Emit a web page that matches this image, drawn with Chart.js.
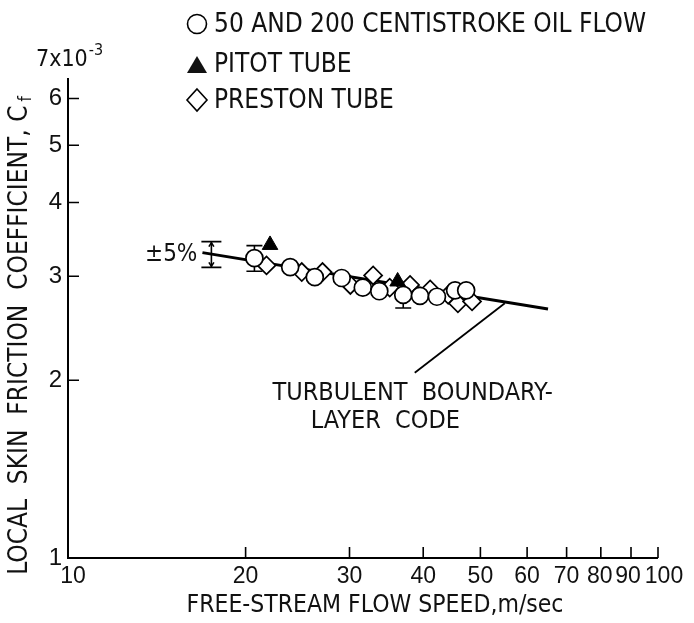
<!DOCTYPE html>
<html>
<head>
<meta charset="utf-8">
<script src="https://cdn.jsdelivr.net/npm/chart.js@4.4.1/dist/chart.umd.min.js"></script>
<style>
    html, body { margin: 0; padding: 0; background: #fff; }
</style>
</head>
<body>
<canvas id="skinChart" width="694" height="623"></canvas>
<script>
// Values: speed in m/s, Cf in units of 10^-3
const oilSpeed = [20.7, 23.8, 26.2, 29.1, 31.6, 33.7, 37.0, 39.5, 42.2, 45.3, 47.3];
const oilCf = [3.22, 3.11, 2.99, 2.98, 2.87, 2.83, 2.79, 2.78, 2.77, 2.84, 2.84];

const pitotSpeed = [22.0, 36.2];
const pitotCf = [3.39, 2.94];

const prestonSpeed = [21.7, 24.9, 27.0, 30.1, 32.9, 35.1, 38.0, 41.1, 44.1, 45.8, 48.4];
const prestonCf = [3.13, 3.05, 3.05, 2.90, 3.01, 2.87, 2.90, 2.85, 2.79, 2.70, 2.72];

// turbulent boundary-layer code curve
const codeSpeed = [16.9, 65.1];
const codeCf = [3.29, 2.64];

// +-5% bars: two oil-flow points and the key bar at the start of the code line
const errSpeed = [20.7, 37.0, 17.5];
const errCf = [3.22, 2.79, 3.27];
const errPct = 0.05;

// pointer from code line to its label
const leaderSpeed = [55.0, 38.7];
const leaderCf = [2.70, 2.06];

const xTicks = [10, 20, 30, 40, 50, 60, 70, 80, 90, 100];
const yTicks = [1, 2, 3, 4, 5, 6, 7];

const NARROW = '"Liberation Sans Narrow", "DejaVu Sans Condensed", "Liberation Sans", sans-serif';
const FONT = '"Liberation Sans", Arial, sans-serif';

function toPoints(xs, ys) {
    return xs.map((x, i) => ({ x: x, y: ys[i] }));
}

// Axes, ticks, error bars and the text notes
const notesPlugin = {
    id: 'notes',
    beforeDatasetsDraw(chart) {
        const ctx = chart.ctx;
        const xs = chart.scales.x;
        const ys = chart.scales.y;

        ctx.save();
        ctx.strokeStyle = '#000';
        ctx.lineWidth = 1.6;

        // error bars
        errSpeed.forEach((s, i) => {
            const px = xs.getPixelForValue(s);
            const top = ys.getPixelForValue(errCf[i] * (1 + errPct));
            const bot = ys.getPixelForValue(errCf[i] * (1 - errPct));
            const half = i === 2 ? 10 : 8;
            ctx.beginPath();
            ctx.moveTo(px, top); ctx.lineTo(px, bot);
            ctx.moveTo(px - half, top); ctx.lineTo(px + half, top);
            ctx.moveTo(px - half, bot); ctx.lineTo(px + half, bot);
            ctx.stroke();
            if (i === 2) {
                // small arrow heads pointing to the caps
                ctx.beginPath();
                ctx.moveTo(px - 2.5, top + 5); ctx.lineTo(px, top + 1); ctx.lineTo(px + 2.5, top + 5);
                ctx.moveTo(px - 2.5, bot - 5); ctx.lineTo(px, bot - 1); ctx.lineTo(px + 2.5, bot - 5);
                ctx.stroke();
            }
        });

        // axis lines
        const x0 = xs.getPixelForValue(10);
        const x1 = xs.getPixelForValue(100);
        const y0 = ys.getPixelForValue(1);
        const yTop = ys.getPixelForValue(6.5);
        ctx.lineWidth = 2;
        ctx.beginPath();
        ctx.moveTo(x0, yTop); ctx.lineTo(x0, y0); ctx.lineTo(x1, y0);
        ctx.stroke();

        // inward tick marks
        ctx.lineWidth = 1.6;
        ctx.beginPath();
        yTicks.slice(1, 6).forEach(v => {
            const py = ys.getPixelForValue(v);
            ctx.moveTo(x0, py); ctx.lineTo(x0 + 11, py);
        });
        xTicks.slice(1).forEach(v => {
            const px = xs.getPixelForValue(v);
            ctx.moveTo(px, y0); ctx.lineTo(px, y0 - 11);
        });
        ctx.stroke();
        ctx.restore();
    },
    afterDraw(chart) {
        const ctx = chart.ctx;
        const xs = chart.scales.x;
        const ys = chart.scales.y;
        ctx.save();
        ctx.fillStyle = '#111';
        ctx.strokeStyle = '#000';
        ctx.textBaseline = 'middle';

        // x tick labels (crowded ones nudged apart as in the original)
        const y0 = ys.getPixelForValue(1);
        ctx.font = '23px ' + FONT;
        ctx.textAlign = 'center';
        xTicks.forEach(v => {
            const nudge = v === 10 ? 5 : v === 80 ? -1 : v === 90 ? -3 : v === 100 ? 6 : 0;
            ctx.fillText(String(v), xs.getPixelForValue(v) + nudge, y0 + 19);
        });

        // top label of y axis
        const y7 = ys.getPixelForValue(7);
        ctx.font = '23px ' + NARROW;
        ctx.textAlign = 'left';
        ctx.fillText('7x10', 36, y7 + 1);
        const wBase = ctx.measureText('7x10').width;
        ctx.font = '16px ' + NARROW;
        ctx.fillText('-3', 36 + wBase + 1, y7 - 8);

        // +-5% key
        ctx.font = '24px ' + NARROW;
        ctx.textAlign = 'right';
        ctx.fillText('\u00b15%', xs.getPixelForValue(errSpeed[2]) - 14, ys.getPixelForValue(errCf[2]) + 1);

        // code label
        ctx.textAlign = 'center';
        ctx.font = '25px ' + NARROW;
        ctx.fillText('TURBULENT  BOUNDARY-', xs.getPixelForValue(38.4), ys.getPixelForValue(1.90));
        ctx.fillText('LAYER  CODE', xs.getPixelForValue(34.5), ys.getPixelForValue(1.70));

        // legend
        ctx.font = '26px ' + NARROW;
        ctx.textAlign = 'left';
        const lx = 197;
        const tx = 214;
        ctx.lineWidth = 1.6;
        ctx.beginPath();
        ctx.arc(lx, 24, 9.5, 0, Math.PI * 2);
        ctx.stroke();
        ctx.fillText('50 AND 200 CENTISTROKE OIL FLOW', tx, 25);

        ctx.beginPath();
        ctx.moveTo(lx, 56); ctx.lineTo(lx + 10, 73); ctx.lineTo(lx - 10, 73);
        ctx.closePath();
        ctx.fill();
        ctx.fillText('PITOT TUBE', tx, 65);

        ctx.beginPath();
        ctx.moveTo(lx, 89); ctx.lineTo(lx + 10, 100); ctx.lineTo(lx, 111); ctx.lineTo(lx - 10, 100);
        ctx.closePath();
        ctx.stroke();
        ctx.fillText('PRESTON TUBE', tx, 101);

        // x axis title
        ctx.font = '24.5px ' + NARROW;
        ctx.textAlign = 'center';
        ctx.fillText('FREE-STREAM FLOW SPEED,m/sec', 375, 606);

        // y axis title with subscript
        ctx.translate(20, 336);
        ctx.rotate(-Math.PI / 2);
        const main = 'LOCAL  SKIN  FRICTION  COEFFICIENT, C';
        ctx.font = '26px ' + NARROW;
        const w1 = ctx.measureText(main).width;
        ctx.font = '17px ' + NARROW;
        const w2 = ctx.measureText('f').width;
        const start = -(w1 + w2 + 3) / 2;
        ctx.font = '26px ' + NARROW;
        ctx.textAlign = 'left';
        ctx.fillText(main, start, 0);
        ctx.font = '17px ' + NARROW;
        ctx.fillText('f', start + w1 + 4, 7);
        ctx.restore();
    }
};

const ctx = document.getElementById('skinChart').getContext('2d');
new Chart(ctx, {
    type: 'scatter',
    data: {
        datasets: [
            {
                label: 'Pitot tube',
                data: toPoints(pitotSpeed, pitotCf),
                pointStyle: 'triangle',
                pointRadius: 9,
                backgroundColor: '#000',
                borderColor: '#000',
                borderWidth: 1
            },
            {
                label: '50 and 200 centistroke oil flow',
                data: toPoints(oilSpeed, oilCf),
                pointStyle: 'circle',
                pointRadius: 8.5,
                backgroundColor: '#fff',
                borderColor: '#000',
                borderWidth: 1.7
            },
            {
                label: 'Preston tube',
                data: toPoints(prestonSpeed, prestonCf),
                pointStyle: 'rectRot',
                pointRadius: 9,
                backgroundColor: '#fff',
                borderColor: '#000',
                borderWidth: 1.7
            },
            {
                type: 'line',
                label: 'Turbulent boundary-layer code',
                data: toPoints(codeSpeed, codeCf),
                borderColor: '#000',
                borderWidth: 3,
                pointRadius: 0,
                order: 10
            },
            {
                type: 'line',
                label: 'leader',
                data: toPoints(leaderSpeed, leaderCf),
                borderColor: '#000',
                borderWidth: 1.8,
                pointRadius: 0,
                order: 10
            }
        ]
    },
    options: {
        responsive: false,
        animation: false,
        layout: { padding: { top: 59, right: 36, left: 0, bottom: 0 } },
        plugins: {
            legend: { display: false },
            tooltip: { enabled: false }
        },
        scales: {
            x: {
                type: 'logarithmic',
                min: 10,
                max: 100,
                afterBuildTicks: s => { s.ticks = xTicks.map(v => ({ value: v })); },
                afterFit: s => { s.height = 65; },
                grid: { display: false, drawTicks: false },
                border: { display: false },
                ticks: { display: false }
            },
            y: {
                type: 'logarithmic',
                min: 1,
                max: 7,
                afterBuildTicks: s => { s.ticks = yTicks.map(v => ({ value: v })); },
                afterFit: s => { s.width = 68; },
                grid: { display: false, drawTicks: false },
                border: { display: false },
                ticks: {
                    autoSkip: false,
                    padding: 6,
                    color: '#111',
                    font: { family: FONT, size: 24 },
                    callback: v => (v === 7 ? '' : String(v))
                }
            }
        }
    },
    plugins: [notesPlugin]
});
</script>
</body>
</html>
